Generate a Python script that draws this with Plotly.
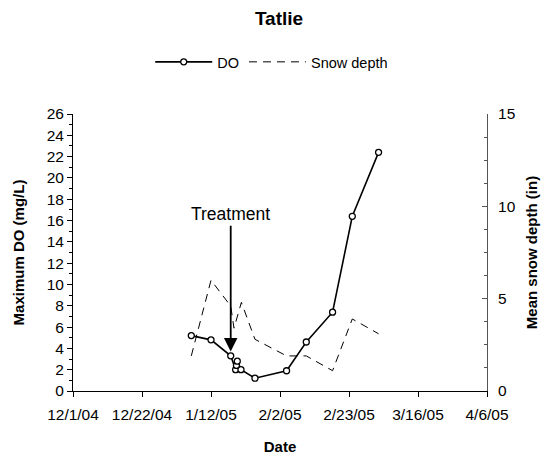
import plotly.graph_objects as go

# Data
do_dates = ["2005-01-06", "2005-01-12", "2005-01-18", "2005-01-19 12:00", "2005-01-19 18:00",
            "2005-01-20", "2005-01-21 03:00", "2005-01-25 09:00", "2005-02-04", "2005-02-10",
            "2005-02-18", "2005-02-24", "2005-03-04"]
do_values = [5.2, 4.8, 3.3, 2.0, 2.4, 2.8, 2.0, 1.2, 1.9, 4.6, 7.4, 16.4, 22.4]

snow_dates = ["2005-01-06", "2005-01-12", "2005-01-18", "2005-01-19", "2005-01-21 06:00",
              "2005-01-25 09:00", "2005-02-04", "2005-02-10", "2005-02-18", "2005-02-24", "2005-03-04"]
snow_values = [1.9, 6.0, 4.6, 3.4, 4.8, 2.8, 1.9, 1.9, 1.1, 3.9, 3.1]

tick_dates = ["2004-12-01", "2004-12-22", "2005-01-12", "2005-02-02", "2005-02-23", "2005-03-16", "2005-04-06"]
tick_labels = ["12/1/04", "12/22/04", "1/12/05", "2/2/05", "2/23/05", "3/16/05", "4/6/05"]

FONT = "Liberation Sans, Arial, sans-serif"

# The page has an 8px body margin, so the figure is drawn 8px smaller and
# the margins are reduced to keep the plot area where the reference has it.
W, H = 542, 451

fig = go.Figure()
fig.add_trace(go.Scatter(
    x=do_dates, y=do_values, name="DO", mode="lines+markers",
    line=dict(color="black", width=1.6),
    marker=dict(symbol="circle", size=6, color="white", line=dict(color="black", width=1.3)),
))
fig.add_trace(go.Scatter(
    x=snow_dates, y=snow_values, name="Snow depth", mode="lines", yaxis="y2",
    line=dict(color="black", width=1, dash="8px,6px"),
))

fig.add_annotation(
    x="2005-01-18", y=3.7, ax="2005-01-18", ay=16.6, axref="x", ayref="y",
    text="Treatment", showarrow=True, arrowhead=2, arrowsize=1.5, arrowwidth=1.8,
    arrowcolor="black", font=dict(family=FONT, size=17.5, color="black"),
)

fig.update_layout(
    width=W, height=H,
    margin=dict(l=65, r=63, t=106, b=68, autoexpand=False),
    paper_bgcolor="white", plot_bgcolor="white",
    font=dict(family=FONT, size=15.5, color="black"),
    title=dict(text="<b>Tatlie</b>", x=0.5, xanchor="center", y=1 - 10.5 / H, yanchor="middle",
               font=dict(family=FONT, size=19, color="black")),
    showlegend=True,
    legend=dict(orientation="h", x=0.48, xanchor="center", y=1.188, yanchor="middle",
                itemwidth=57, font=dict(family=FONT, size=14.5), bgcolor="rgba(0,0,0,0)",
                tracegroupgap=0),
    xaxis=dict(
        type="date", range=["2004-12-01", "2005-04-06"],
        tickvals=tick_dates, ticktext=tick_labels,
        showgrid=False, zeroline=False, automargin=False,
        showline=True, linecolor="black", linewidth=1,
        ticks="outside", ticklen=5, tickcolor="black",
        ticklabelstandoff=4,
        title=dict(text="<b>Date</b>", font=dict(family=FONT, size=15), standoff=19),
    ),
    yaxis=dict(
        range=[0, 26], dtick=2, tick0=0, automargin=False,
        showgrid=False, zeroline=False,
        showline=True, linecolor="black", linewidth=1,
        ticks="outside", ticklen=5, tickcolor="black",
        minor=dict(dtick=1, ticks="outside", ticklen=3, tickcolor="black"),
        title=dict(text="<b>Maximum DO (mg/L)</b>", font=dict(family=FONT, size=15), standoff=18),
    ),
    yaxis2=dict(
        range=[0, 15], dtick=5, tick0=0, overlaying="y", side="right", automargin=False,
        showgrid=False, zeroline=False,
        showline=True, linecolor="#555555", linewidth=1,
        ticks="inside", ticklen=5, tickcolor="#555555",
        ticklabelstandoff=7,
        minor=dict(dtick=1.25, ticks="inside", ticklen=3, tickcolor="#555555"),
        title=dict(text="<b>Mean snow depth (in)</b>", font=dict(family=FONT, size=15), standoff=11),
    ),
)

fig.write_html("out.html")
